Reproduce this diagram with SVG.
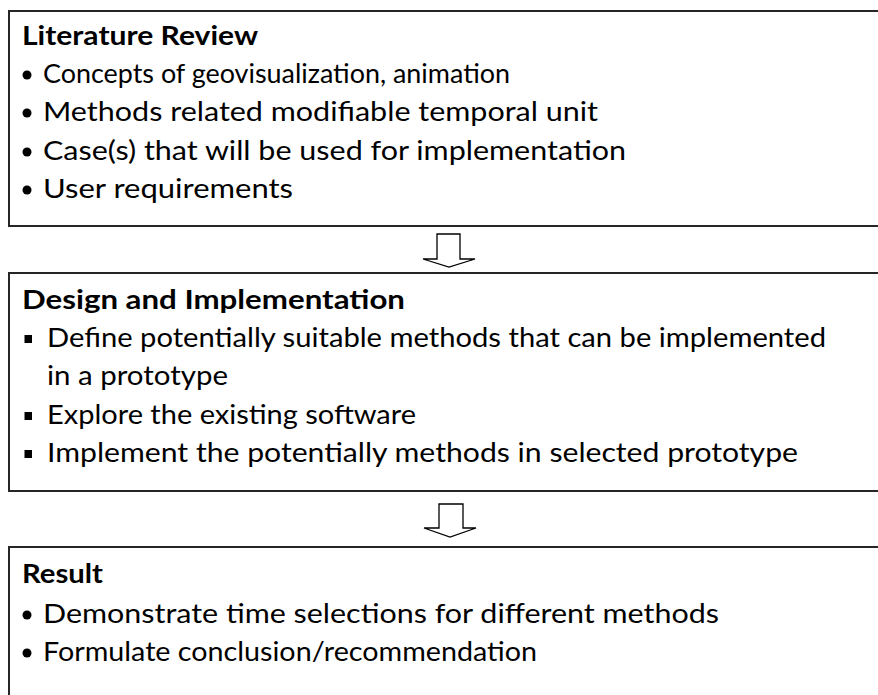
<svg xmlns="http://www.w3.org/2000/svg" width="878" height="695" viewBox="0 0 878 695">
  <style>
    .box { fill: #ffffff; stroke: #262626; stroke-width: 2; }
    .title { font-family: Lato, "Liberation Sans", sans-serif; font-weight: bold; font-size: 26.5px; fill: #000; }
    .item { font-family: Lato, "Liberation Sans", sans-serif; font-size: 26.5px; fill: #000; }
    .dot { fill: #000; }
    .flow { fill: #ffffff; stroke: #000; stroke-width: 1.3; stroke-linejoin: miter; }
  </style>
  <rect width="878" height="695" fill="#ffffff"/>

  <!-- Stage 1 -->
  <g id="literature-review">
    <rect class="box" x="9" y="11" width="900" height="215"/>
    <text class="title" x="22" y="45" textLength="236" lengthAdjust="spacingAndGlyphs">Literature Review</text>
    <circle class="dot" cx="27" cy="75" r="4.5"/>
    <text class="item" x="43" y="83" textLength="467" lengthAdjust="spacingAndGlyphs">Concepts of geovisualization, animation</text>
    <circle class="dot" cx="27" cy="113" r="4.5"/>
    <text class="item" x="43" y="121" textLength="555" lengthAdjust="spacingAndGlyphs">Methods related modifiable temporal unit</text>
    <circle class="dot" cx="27" cy="152" r="4.5"/>
    <text class="item" x="43" y="160" textLength="583" lengthAdjust="spacingAndGlyphs">Case(s) that will be used for implementation</text>
    <circle class="dot" cx="27" cy="190" r="4.5"/>
    <text class="item" x="43" y="198" textLength="250" lengthAdjust="spacingAndGlyphs">User requirements</text>
  </g>

  <!-- Stage 2 -->
  <g id="design-implementation">
    <rect class="box" x="9" y="273" width="900" height="218"/>
    <text class="title" x="22" y="309" textLength="383" lengthAdjust="spacingAndGlyphs">Design and Implementation</text>
    <rect class="dot" x="24.5" y="335" width="7.5" height="8"/>
    <text class="item" x="47" y="347" textLength="779" lengthAdjust="spacingAndGlyphs">Define potentially suitable methods that can be implemented</text>
    <text class="item" x="47" y="385" textLength="181" lengthAdjust="spacingAndGlyphs">in a prototype</text>
    <rect class="dot" x="24.5" y="412" width="7.5" height="8"/>
    <text class="item" x="47" y="424" textLength="369" lengthAdjust="spacingAndGlyphs">Explore the existing software</text>
    <rect class="dot" x="24.5" y="450" width="7.5" height="8"/>
    <text class="item" x="47" y="462" textLength="751" lengthAdjust="spacingAndGlyphs">Implement the potentially methods in selected prototype</text>
  </g>

  <!-- Stage 3 -->
  <g id="result">
    <rect class="box" x="9" y="547" width="900" height="200"/>
    <text class="title" x="22" y="583" textLength="81" lengthAdjust="spacingAndGlyphs">Result</text>
    <circle class="dot" cx="27" cy="615" r="4.5"/>
    <text class="item" x="43" y="623" textLength="676" lengthAdjust="spacingAndGlyphs">Demonstrate time selections for different methods</text>
    <circle class="dot" cx="27" cy="653" r="4.5"/>
    <text class="item" x="43" y="661" textLength="494" lengthAdjust="spacingAndGlyphs">Formulate conclusion/recommendation</text>
  </g>

  <!-- Block arrows between stages -->
  <g id="connectors">
    <polygon class="flow" points="437,234 460,234 460,259 475,259 449,267 423,259 437,259"/>
    <polygon class="flow" points="439,504 463,504 463,528 476,528 450,537 424,528 439,528"/>
  </g>
</svg>
